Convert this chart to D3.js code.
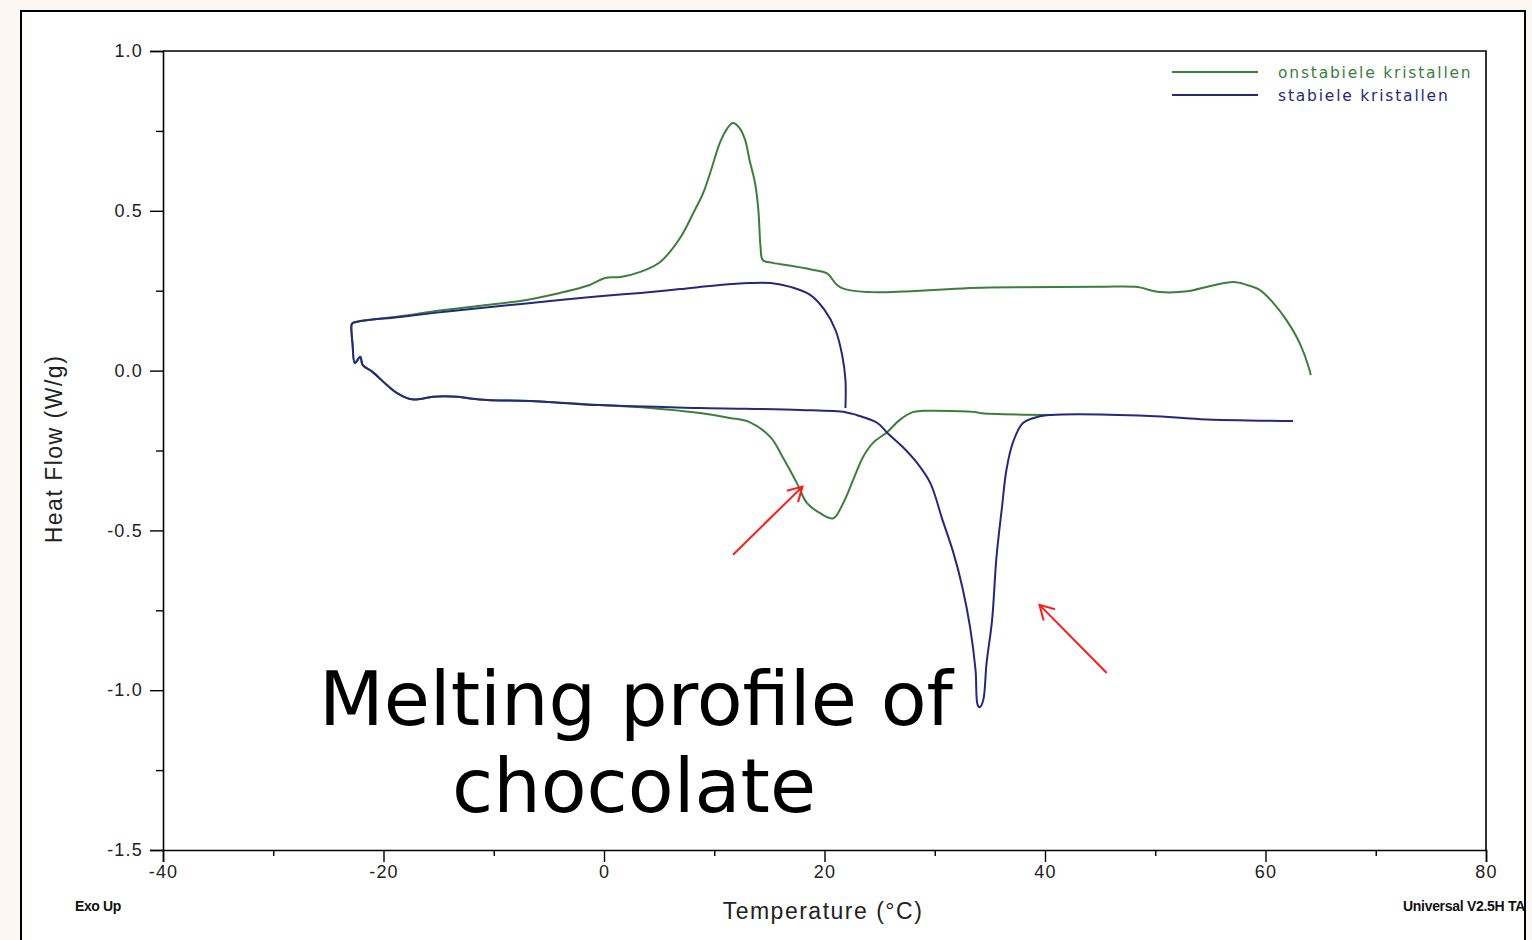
<!DOCTYPE html>
<html>
<head>
<meta charset="utf-8">
<script src="https://cdn.jsdelivr.net/npm/d3@7"></script>
<style>
  html, body { margin: 0; padding: 0; background: #fcf7f3; }
  svg { display: block; }
</style>
</head>
<body>
<svg id="chart" width="1532" height="940"></svg>
<script>
// DSC heat-flow traces, [temperature °C, heat flow W/g], in scan order
const onstabiele = [
  [64.1,-0.014],[64.0,0.002],[63.1,0.086],[61.9,0.158],[60.7,0.212],[59.5,0.252],[58.3,0.268],
  [57.1,0.277],[55.0,0.265],[52.9,0.248],[50.4,0.246],[48.2,0.262],[45.0,0.262],[35.0,0.260],
  [21.6,0.258],[20.2,0.305],[19.0,0.315],[17.1,0.327],[15.3,0.337],[14.4,0.346],[14.2,0.387],
  [14.0,0.503],[13.7,0.587],[13.2,0.659],[12.8,0.722],[12.3,0.759],[11.7,0.775],[11.2,0.759],
  [10.5,0.712],[9.8,0.637],[9.0,0.556],[8.1,0.493],[6.9,0.415],[5.1,0.340],[3.3,0.309],
  [1.5,0.293],[0.1,0.290],[-1.3,0.268],[-4.0,0.243],[-7.6,0.218],[-11.2,0.203],[-14.9,0.188],
  [-18.5,0.170],[-22.1,0.155],[-22.8,0.149],[-22.9,0.143],[-22.8,0.080],[-22.6,0.024],
  [-22.1,0.043],[-21.9,0.018],[-21.0,-0.004],[-19.7,-0.045],[-18.8,-0.070],[-17.6,-0.089],
  [-16.7,-0.089],[-15.5,-0.082],[-13.3,-0.082],[-12.4,-0.086],[-10.6,-0.092],[-6.7,-0.095],
  [-0.4,-0.108],[4.2,-0.117],[8.7,-0.133],[11.4,-0.148],[13.2,-0.161],[15.1,-0.208],
  [16.2,-0.270],[17.5,-0.352],[18.4,-0.414],[19.6,-0.446],[20.8,-0.462],[21.7,-0.414],
  [22.6,-0.342],[23.5,-0.270],[24.4,-0.226],[25.7,-0.192],[26.8,-0.155],[28.0,-0.130],
  [28.9,-0.126],[33.8,-0.130],[34.1,-0.133],[40.5,-0.139]
];

const stabiele = [
  [21.9,-0.117],[21.9,-0.029],[21.6,0.049],[21.0,0.127],[20.0,0.190],[18.7,0.237],[16.9,0.262],
  [15.1,0.274],[13.2,0.274],[10.5,0.268],[6.9,0.255],[3.3,0.243],[-0.4,0.233],[-4.0,0.221],
  [-9.4,0.202],[-14.0,0.186],[-18.5,0.168],[-22.1,0.155],[-22.8,0.149],[-22.9,0.143],
  [-22.8,0.080],[-22.6,0.024],[-22.1,0.043],[-21.9,0.018],[-21.0,-0.004],[-19.7,-0.045],
  [-18.8,-0.070],[-17.6,-0.089],[-16.7,-0.089],[-15.5,-0.082],[-13.3,-0.082],[-12.4,-0.086],
  [-10.6,-0.092],[-6.7,-0.095],[-0.4,-0.108],[8.7,-0.117],[17.8,-0.123],[21.9,-0.130],
  [22.9,-0.139],[24.8,-0.164],[25.7,-0.195],[27.1,-0.239],[28.4,-0.289],[29.6,-0.352],
  [30.7,-0.467],[31.7,-0.571],[32.5,-0.677],[33.2,-0.802],[33.7,-0.937],[33.9,-1.047],
  [34.1,-1.053],[34.4,-1.031],[34.7,-0.915],[35.2,-0.781],[35.6,-0.583],[36.1,-0.427],
  [36.5,-0.311],[37.1,-0.224],[38.0,-0.164],[39.3,-0.145],[40.5,-0.139],[49.5,-0.142],
  [54.1,-0.152],[62.5,-0.158]
];

const seriesNames = ["onstabiele kristallen", "stabiele kristallen"];
const xTicks = [-40, -20, 0, 20, 40, 60, 80];
const xMinorTicks = [-30, -10, 10, 30, 50, 70];
const yTicks = [1.0, 0.5, 0.0, -0.5, -1.0, -1.5];
const yMinorTicks = [0.75, 0.25, -0.25, -0.75, -1.25];

// red arrows pointing at the two melting peaks: [tailT, tailHF, headT, headHF]
const arrows = [
  [11.7, -0.576, 18.0, -0.363],
  [45.6, -0.946, 39.5, -0.733]
];

const colors = ["#3b7f3b", "#26287a"];

const svg = d3.select("#chart");
const plot = { left: 163, top: 51, right: 1486, bottom: 850 };

const x = d3.scaleLinear().domain([-40, 80]).range([plot.left, plot.right]);
const y = d3.scaleLinear().domain([-1.5, 1.0]).range([plot.bottom, plot.top]);

// plain hyphen for negative tick labels
const fmtY = d => d.toFixed(1);
const fmtX = d => String(d);

// framed panel
svg.append("rect")
  .attr("x", 21).attr("y", 11).attr("width", 1504).attr("height", 960)
  .attr("fill", "#ffffff").attr("stroke", "#000").attr("stroke-width", 2);

const axisFont = "'Liberation Sans', Arial, sans-serif";

// plot box (top and right edges)
svg.append("path")
  .attr("d", `M${plot.left},${plot.top}H${plot.right}V${plot.bottom}`)
  .attr("fill", "none").attr("stroke", "#000").attr("stroke-width", 1.6);

// y axis
const yAxis = d3.axisLeft(y).tickValues(yTicks).tickSize(13).tickPadding(7).tickFormat(fmtY);
const gy = svg.append("g").attr("transform", `translate(${plot.left},0)`).call(yAxis);
gy.selectAll(".tick text").attr("font-family", axisFont).attr("font-size", 18)
  .attr("letter-spacing", 1.2).attr("fill", "#222");
svg.append("g").attr("transform", `translate(${plot.left},0)`)
  .call(d3.axisLeft(y).tickValues(yMinorTicks).tickSize(7).tickFormat(""))
  .select(".domain").remove();

// x axis
const xAxis = d3.axisBottom(x).tickValues(xTicks).tickSize(12).tickPadding(3).tickFormat(fmtX);
const gx = svg.append("g").attr("transform", `translate(0,${plot.bottom})`).call(xAxis);
gx.selectAll(".tick text").attr("font-family", axisFont).attr("font-size", 18)
  .attr("letter-spacing", 1.2).attr("fill", "#222");
svg.append("g").attr("transform", `translate(0,${plot.bottom})`)
  .call(d3.axisBottom(x).tickValues(xMinorTicks).tickSize(6).tickFormat(""))
  .select(".domain").remove();

svg.selectAll(".domain").attr("stroke-width", 1.6);
svg.selectAll(".tick line").attr("stroke-width", 1.4);

// axis titles
svg.append("text")
  .attr("x", 823).attr("y", 919).attr("text-anchor", "middle")
  .attr("font-family", axisFont).attr("font-size", 23).attr("letter-spacing", 1.5)
  .attr("fill", "#222")
  .text("Temperature (°C)");
svg.append("text")
  .attr("transform", "translate(62,449) rotate(-90)").attr("text-anchor", "middle")
  .attr("font-family", axisFont).attr("font-size", 23).attr("letter-spacing", 1.5)
  .attr("fill", "#222")
  .text("Heat Flow (W/g)");

// instrument notes
svg.append("text")
  .attr("x", 75).attr("y", 911)
  .attr("font-family", axisFont).attr("font-size", 14).attr("font-weight", "bold")
  .attr("letter-spacing", -0.4).attr("fill", "#111")
  .text("Exo Up");
svg.append("clipPath").attr("id", "frameClip")
  .append("rect").attr("x", 21).attr("y", 11).attr("width", 1503).attr("height", 960);
svg.append("text")
  .attr("clip-path", "url(#frameClip)")
  .attr("x", 1403).attr("y", 911)
  .attr("font-family", axisFont).attr("font-size", 14).attr("font-weight", "bold")
  .attr("letter-spacing", -0.3).attr("fill", "#111")
  .text("Universal V2.5H TA");

// traces
const line = d3.line().x(d => x(d[0])).y(d => y(d[1])).curve(d3.curveCatmullRom.alpha(0.5));
[onstabiele, stabiele].forEach((data, i) => {
  svg.append("path")
    .datum(data)
    .attr("d", line)
    .attr("fill", "none")
    .attr("stroke", colors[i])
    .attr("stroke-width", 2)
    .attr("stroke-linejoin", "round");
});

// legend
const legend = svg.append("g").attr("transform", "translate(1172,72)");
seriesNames.forEach((name, i) => {
  const g = legend.append("g").attr("transform", `translate(0,${i * 23})`);
  g.append("line").attr("x1", 0).attr("x2", 86).attr("y1", 0).attr("y2", 0)
    .attr("stroke", colors[i]).attr("stroke-width", 1.8);
  g.append("text").attr("x", 106).attr("y", 5.5)
    .attr("font-family", "'DejaVu Sans', Verdana, sans-serif")
    .attr("font-size", 15.5).attr("letter-spacing", 1.8)
    .attr("fill", colors[i])
    .text(name);
});

// annotation arrows
const defs = svg.append("defs");
defs.append("marker")
  .attr("id", "openArrow").attr("viewBox", "0 0 20 20")
  .attr("refX", 18).attr("refY", 10)
  .attr("markerWidth", 20).attr("markerHeight", 20)
  .attr("markerUnits", "userSpaceOnUse")
  .attr("orient", "auto")
  .append("path").attr("d", "M4,2 L18,10 L4,18")
  .attr("fill", "none").attr("stroke", "#ff1a1a").attr("stroke-width", 2);
arrows.forEach(a => {
  svg.append("line")
    .attr("x1", x(a[0])).attr("y1", y(a[1]))
    .attr("x2", x(a[2])).attr("y2", y(a[3]))
    .attr("stroke", "#ff1a1a").attr("stroke-width", 2)
    .attr("marker-end", "url(#openArrow)");
});

// caption
const caption = svg.append("g")
  .attr("font-family", "'DejaVu Sans', Verdana, sans-serif")
  .attr("font-size", 75).attr("fill", "#000");
caption.append("text").attr("x", 636).attr("y", 725).attr("text-anchor", "middle")
  .text("Melting profile of");
caption.append("text").attr("x", 634).attr("y", 812).attr("text-anchor", "middle")
  .text("chocolate");
</script>
</body>
</html>
